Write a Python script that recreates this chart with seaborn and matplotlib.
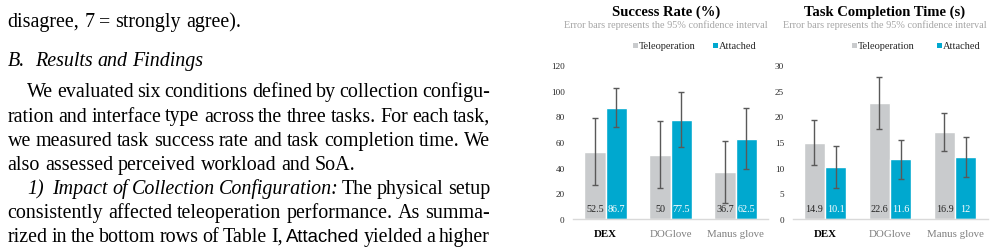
import matplotlib
matplotlib.use("Agg")
import matplotlib.pyplot as plt
from matplotlib.patches import Rectangle
import matplotlib.transforms as mtransforms
import seaborn as sns
import pandas as pd

# ---------------- data ----------------
categories = ["DEX", "DOGlove", "Manus glove"]
interfaces = ["Teleoperation", "Attached"]

success_tele = [52.5, 50, 36.7]
success_att = [86.7, 77.5, 62.5]
success_tele_ci = [26.0, 26.0, 24.3]
success_att_ci = [15.2, 21.3, 23.7]
success_ticks = [0, 20, 40, 60, 80, 100, 120]

time_tele = [14.9, 22.6, 16.9]
time_att = [10.1, 11.6, 12]
time_tele_ci = [4.45, 5.0, 3.75]
time_att_ci = [4.05, 3.8, 3.9]
time_ticks = [0, 5, 10, 15, 20, 25, 30]

titles = ["Success Rate (%)", "Task Completion Time (s)"]
subtitle = "Error bars represents the 95% confidence interval"

paragraph = [
    ("disagree, 7 = strongly agree).", 0, False),
    ("B.  Results and Findings", 0, False),
    ("We evaluated six conditions defined by collection configu-", 1, True),
    ("ration and interface type across the three tasks. For each task,", 0, True),
    ("we measured task success rate and task completion time. We", 0, True),
    ("also assessed perceived workload and SoA.", 0, False),
    ("1)  Impact of Collection Configuration: The physical setup", 1, True),
    ("consistently affected teleoperation performance. As summa-", 0, True),
    ("rized in the bottom rows of Table I, Attached yielded a higher", 0, True),
]
italic_words = {1: "all", 6: 5}   # line 1 all italic; line 6 first 5 words italic
sans_words = {8: ["Attached"]}

# ---------------- style ----------------
GRAY = "#C9CBCD"
CYAN = "#00A8CF"
ERR = "#595959"
SERIF = ["Liberation Serif", "DejaVu Serif"]

sns.set_theme(style="white")
plt.rcParams["font.family"] = SERIF

W, H = 994, 253
fig = plt.figure(figsize=(W / 100, H / 100), dpi=100)
fig.patch.set_facecolor("white")
renderer = fig.canvas.get_renderer()


def fx(px):
    return px / W


def fy(py):
    return 1 - py / H


def text_width(s, **kw):
    t = fig.text(0, 0, s, **kw)
    w = t.get_window_extent(renderer).width
    t.remove()
    return w


# ---------------- left paragraph text ----------------
calib = text_width("also assessed perceived workload and SoA.", fontsize=10, family=SERIF)
body_fs = 10 * 349.0 / calib
left_x, indent_x, right_x = 7.5, 27.0, 490.0
baselines = [27, 66, 97, 121.5, 146, 170, 194, 218, 242]

for li, (line, ind, justify) in enumerate(paragraph):
    words = line.split()
    styles = []
    for wi, w in enumerate(words):
        st = dict(fontsize=body_fs, family=SERIF, color="black")
        if italic_words.get(li) == "all" or (isinstance(italic_words.get(li), int) and wi < italic_words[li]):
            st["style"] = "italic"
        if w in sans_words.get(li, []):
            st["family"] = ["Liberation Sans", "DejaVu Sans"]
            st["fontsize"] = body_fs * 0.93
        styles.append(st)
    widths = [text_width(w, **st) for w, st in zip(words, styles)]
    sp = text_width("a a", fontsize=body_fs, family=SERIF) - text_width("aa", fontsize=body_fs, family=SERIF)
    x0 = indent_x if ind else left_x
    gaps = [sp] * (len(words) - 1)
    if li in (1, 6):
        gaps[0] = sp * 2
    if justify and len(words) > 1:
        extra = (right_x - x0 - sum(widths) - sum(gaps)) / len(gaps)
        gaps = [g + extra for g in gaps]
    x = x0
    for i, (w, st) in enumerate(zip(words, styles)):
        fig.text(fx(x), fy(baselines[li]), w, va="baseline", ha="left", **st)
        x += widths[i] + (gaps[i] if i < len(gaps) else 0)

# ---------------- charts ----------------
panels = [
    dict(tele=success_tele, att=success_att, tci=success_tele_ci, aci=success_att_ci,
         ticks=success_ticks, left=573, right=768, title=titles[0], center=666,
         leg=(632.5, 712.5)),
    dict(tele=time_tele, att=time_att, tci=time_tele_ci, aci=time_att_ci,
         ticks=time_ticks, left=792.5, right=987.5, title=titles[1], center=885,
         leg=(851.5, 936.5)),
]

ax_top, ax_bot = 66, 220

for p in panels:
    df = pd.DataFrame({
        "category": categories * 2,
        "interface": [interfaces[0]] * 3 + [interfaces[1]] * 3,
        "value": list(p["tele"]) + list(p["att"]),
    })
    ax = fig.add_axes([fx(p["left"]), fy(ax_bot), (p["right"] - p["left"]) / W, (ax_bot - ax_top) / H])
    sns.barplot(data=df, x="category", y="value", hue="interface", hue_order=interfaces,
                order=categories, palette=[GRAY, CYAN], width=0.65, saturation=1,
                errorbar=None, legend=False, ax=ax)
    ax.set_ylim(p["ticks"][0], p["ticks"][-1])
    ax.set_xlim(-0.5, 2.5)
    ax.set_yticks(p["ticks"])
    ax.set_yticklabels([str(t) for t in p["ticks"]], fontsize=6.6, color="#262626")
    ax.tick_params(axis="y", length=0, pad=6)
    ax.tick_params(axis="x", length=0, pad=7)
    ax.set_xlabel("")
    ax.set_ylabel("")
    ax.set_xticks(range(len(categories)))
    ax.set_xticklabels(categories, fontsize=7.8)
    for i, lab in enumerate(ax.get_xticklabels()):
        if i == 0:
            lab.set_fontweight("bold")
            lab.set_color("black")
        else:
            lab.set_color("#7F7F7F")
    for s in ["top", "right", "left"]:
        ax.spines[s].set_visible(False)
    ax.spines["bottom"].set_color("#D9D9D9")
    ax.spines["bottom"].set_linewidth(1.0)
    ax.set_facecolor("none")

    trans = mtransforms.blended_transform_factory(ax.transData, ax.transAxes)
    for cont, vals, cis, tcol in [(ax.containers[0], p["tele"], p["tci"], "#262626"),
                                  (ax.containers[1], p["att"], p["aci"], "white")]:
        xs = [r.get_x() + r.get_width() / 2 for r in cont]
        hs = [r.get_height() for r in cont]
        ax.errorbar(xs, hs, yerr=cis, fmt="none", ecolor=ERR, elinewidth=1.0,
                    capsize=2.2, capthick=1.0, zorder=5)
        for x, v in zip(xs, vals):
            ax.text(x, 0.068, f"{v:g}", transform=trans, ha="center", va="center",
                    fontsize=7.3, color=tcol, zorder=6)

    fig.text(fx(p["center"]), fy(12.5), p["title"], ha="center", va="center",
             fontsize=10.5, fontweight="bold", color="black")
    fig.text(fx(p["center"]), fy(25.5), subtitle, ha="center", va="center",
             fontsize=7.4, color="#A6A6A6")
    for lx, col, name in zip(p["leg"], [GRAY, CYAN], interfaces):
        fig.patches.append(Rectangle((fx(lx), fy(49)), 5 / W, 5 / H, transform=fig.transFigure,
                                     facecolor=col, edgecolor="none"))
        fig.text(fx(lx + 6.5), fy(46.5), name, ha="left", va="center",
                 fontsize=7.5, color="#262626")

fig.savefig("out.png", dpi=100)
